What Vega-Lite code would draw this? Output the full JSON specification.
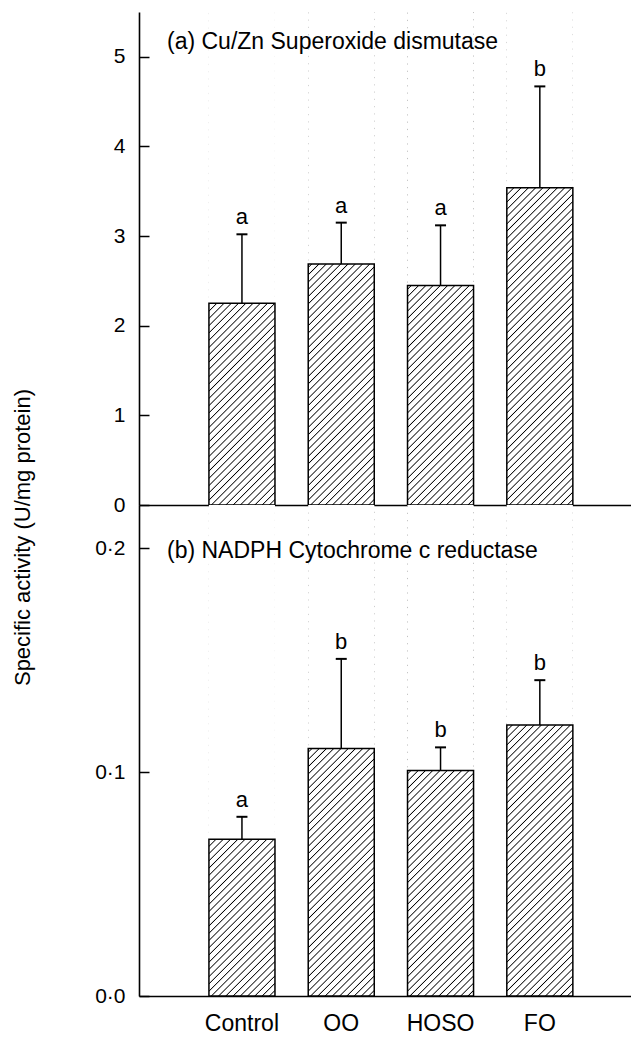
{
"$schema": "https://vega.github.io/schema/vega-lite/v6.json",
"autosize": {"type": "none"},
"padding": {"left": 139, "top": 12, "right": 492, "bottom": 1026},
"bounds": "flush",
"spacing": 0,
"config": {
 "view": {"stroke": null},
 "font": "Liberation Sans",
 "axis": {"domainColor": "black", "domainWidth": 1.6, "tickColor": "black", "tickWidth": 1.5, "labelColor": "black", "titleColor": "black", "labelFont": "Liberation Sans", "titleFont": "Liberation Sans", "zindex": 1, "grid": false}
},
"datasets": {
 "sod": [
  {"group": "Control", "mean": 2.25, "upper": 3.02, "letter": "a"},
  {"group": "OO", "mean": 2.69, "upper": 3.15, "letter": "a"},
  {"group": "HOSO", "mean": 2.45, "upper": 3.12, "letter": "a"},
  {"group": "FO", "mean": 3.54, "upper": 4.67, "letter": "b"}
 ],
 "ncr": [
  {"group": "Control", "mean": 0.070, "upper": 0.080, "letter": "a"},
  {"group": "OO", "mean": 0.1105, "upper": 0.1505, "letter": "b"},
  {"group": "HOSO", "mean": 0.1007, "upper": 0.111, "letter": "b"},
  {"group": "FO", "mean": 0.121, "upper": 0.141, "letter": "b"}
 ]
},
"vconcat": [
 {
  "width": 492, "height": 493,
  "data": {"name": "sod"},
  "title": {"text": "(a) Cu/Zn Superoxide dismutase", "orient": "top", "anchor": "start", "frame": "group", "offset": 0, "dx": 28, "dy": 60, "baseline": "alphabetic", "fontSize": 23, "fontWeight": "normal", "font": "Liberation Sans", "color": "black"},
  "resolve": {"axis": {"y": "independent"}},
  "encoding": {"x": {"field": "group", "type": "nominal", "sort": null, "scale": {"paddingInner": 0.335, "paddingOuter": 0.645, "align": 0.546}, "axis": {"labels": false, "ticks": false, "title": null}}},
  "layer": [
   {"mark": {"type": "bar", "opacity": 1, "fill": {"gradient": "linear", "x1": 0, "y1": 0, "x2": 0.1495, "y2": 1.1141, "stops": [
{"offset":0,"color":"#fff"},{"offset":0.002,"color":"#000"},{"offset":0.004,"color":"#fff"},
{"offset":0.013,"color":"#fff"},{"offset":0.015,"color":"#000"},{"offset":0.017,"color":"#fff"},
{"offset":0.026,"color":"#fff"},{"offset":0.028,"color":"#000"},{"offset":0.030,"color":"#fff"},
{"offset":0.039,"color":"#fff"},{"offset":0.041,"color":"#000"},{"offset":0.043,"color":"#fff"},
{"offset":0.052,"color":"#fff"},{"offset":0.054,"color":"#000"},{"offset":0.056,"color":"#fff"},
{"offset":0.065,"color":"#fff"},{"offset":0.067,"color":"#000"},{"offset":0.069,"color":"#fff"},
{"offset":0.078,"color":"#fff"},{"offset":0.080,"color":"#000"},{"offset":0.082,"color":"#fff"},
{"offset":0.091,"color":"#fff"},{"offset":0.093,"color":"#000"},{"offset":0.095,"color":"#fff"},
{"offset":0.104,"color":"#fff"},{"offset":0.106,"color":"#000"},{"offset":0.108,"color":"#fff"},
{"offset":0.117,"color":"#fff"},{"offset":0.119,"color":"#000"},{"offset":0.121,"color":"#fff"},
{"offset":0.130,"color":"#fff"},{"offset":0.132,"color":"#000"},{"offset":0.134,"color":"#fff"},
{"offset":0.143,"color":"#fff"},{"offset":0.145,"color":"#000"},{"offset":0.147,"color":"#fff"},
{"offset":0.156,"color":"#fff"},{"offset":0.158,"color":"#000"},{"offset":0.160,"color":"#fff"},
{"offset":0.169,"color":"#fff"},{"offset":0.171,"color":"#000"},{"offset":0.173,"color":"#fff"},
{"offset":0.182,"color":"#fff"},{"offset":0.184,"color":"#000"},{"offset":0.186,"color":"#fff"},
{"offset":0.195,"color":"#fff"},{"offset":0.197,"color":"#000"},{"offset":0.199,"color":"#fff"},
{"offset":0.208,"color":"#fff"},{"offset":0.210,"color":"#000"},{"offset":0.212,"color":"#fff"},
{"offset":0.221,"color":"#fff"},{"offset":0.223,"color":"#000"},{"offset":0.225,"color":"#fff"},
{"offset":0.234,"color":"#fff"},{"offset":0.236,"color":"#000"},{"offset":0.238,"color":"#fff"},
{"offset":0.247,"color":"#fff"},{"offset":0.249,"color":"#000"},{"offset":0.251,"color":"#fff"},
{"offset":0.260,"color":"#fff"},{"offset":0.262,"color":"#000"},{"offset":0.264,"color":"#fff"},
{"offset":0.273,"color":"#fff"},{"offset":0.275,"color":"#000"},{"offset":0.277,"color":"#fff"},
{"offset":0.286,"color":"#fff"},{"offset":0.288,"color":"#000"},{"offset":0.290,"color":"#fff"},
{"offset":0.299,"color":"#fff"},{"offset":0.301,"color":"#000"},{"offset":0.303,"color":"#fff"},
{"offset":0.312,"color":"#fff"},{"offset":0.314,"color":"#000"},{"offset":0.316,"color":"#fff"},
{"offset":0.325,"color":"#fff"},{"offset":0.327,"color":"#000"},{"offset":0.329,"color":"#fff"},
{"offset":0.338,"color":"#fff"},{"offset":0.340,"color":"#000"},{"offset":0.342,"color":"#fff"},
{"offset":0.351,"color":"#fff"},{"offset":0.353,"color":"#000"},{"offset":0.355,"color":"#fff"},
{"offset":0.364,"color":"#fff"},{"offset":0.366,"color":"#000"},{"offset":0.368,"color":"#fff"},
{"offset":0.377,"color":"#fff"},{"offset":0.379,"color":"#000"},{"offset":0.381,"color":"#fff"},
{"offset":0.390,"color":"#fff"},{"offset":0.392,"color":"#000"},{"offset":0.394,"color":"#fff"},
{"offset":0.403,"color":"#fff"},{"offset":0.405,"color":"#000"},{"offset":0.407,"color":"#fff"},
{"offset":0.416,"color":"#fff"},{"offset":0.418,"color":"#000"},{"offset":0.420,"color":"#fff"},
{"offset":0.429,"color":"#fff"},{"offset":0.431,"color":"#000"},{"offset":0.433,"color":"#fff"},
{"offset":0.442,"color":"#fff"},{"offset":0.444,"color":"#000"},{"offset":0.446,"color":"#fff"},
{"offset":0.455,"color":"#fff"},{"offset":0.457,"color":"#000"},{"offset":0.459,"color":"#fff"},
{"offset":0.468,"color":"#fff"},{"offset":0.470,"color":"#000"},{"offset":0.472,"color":"#fff"},
{"offset":0.481,"color":"#fff"},{"offset":0.483,"color":"#000"},{"offset":0.485,"color":"#fff"},
{"offset":0.494,"color":"#fff"},{"offset":0.496,"color":"#000"},{"offset":0.498,"color":"#fff"},
{"offset":0.507,"color":"#fff"},{"offset":0.509,"color":"#000"},{"offset":0.511,"color":"#fff"},
{"offset":0.520,"color":"#fff"},{"offset":0.522,"color":"#000"},{"offset":0.524,"color":"#fff"},
{"offset":0.533,"color":"#fff"},{"offset":0.535,"color":"#000"},{"offset":0.537,"color":"#fff"},
{"offset":0.546,"color":"#fff"},{"offset":0.548,"color":"#000"},{"offset":0.550,"color":"#fff"},
{"offset":0.559,"color":"#fff"},{"offset":0.561,"color":"#000"},{"offset":0.563,"color":"#fff"},
{"offset":0.572,"color":"#fff"},{"offset":0.574,"color":"#000"},{"offset":0.576,"color":"#fff"},
{"offset":0.585,"color":"#fff"},{"offset":0.587,"color":"#000"},{"offset":0.589,"color":"#fff"},
{"offset":0.598,"color":"#fff"},{"offset":0.600,"color":"#000"},{"offset":0.602,"color":"#fff"},
{"offset":0.611,"color":"#fff"},{"offset":0.613,"color":"#000"},{"offset":0.615,"color":"#fff"},
{"offset":0.624,"color":"#fff"},{"offset":0.626,"color":"#000"},{"offset":0.628,"color":"#fff"},
{"offset":0.637,"color":"#fff"},{"offset":0.639,"color":"#000"},{"offset":0.641,"color":"#fff"},
{"offset":0.650,"color":"#fff"},{"offset":0.652,"color":"#000"},{"offset":0.654,"color":"#fff"},
{"offset":0.663,"color":"#fff"},{"offset":0.665,"color":"#000"},{"offset":0.667,"color":"#fff"},
{"offset":0.676,"color":"#fff"},{"offset":0.678,"color":"#000"},{"offset":0.680,"color":"#fff"},
{"offset":0.689,"color":"#fff"},{"offset":0.691,"color":"#000"},{"offset":0.693,"color":"#fff"},
{"offset":0.702,"color":"#fff"},{"offset":0.704,"color":"#000"},{"offset":0.706,"color":"#fff"},
{"offset":0.715,"color":"#fff"},{"offset":0.717,"color":"#000"},{"offset":0.719,"color":"#fff"},
{"offset":0.728,"color":"#fff"},{"offset":0.730,"color":"#000"},{"offset":0.732,"color":"#fff"},
{"offset":0.741,"color":"#fff"},{"offset":0.743,"color":"#000"},{"offset":0.745,"color":"#fff"},
{"offset":0.754,"color":"#fff"},{"offset":0.756,"color":"#000"},{"offset":0.758,"color":"#fff"},
{"offset":0.767,"color":"#fff"},{"offset":0.769,"color":"#000"},{"offset":0.771,"color":"#fff"},
{"offset":0.780,"color":"#fff"},{"offset":0.782,"color":"#000"},{"offset":0.784,"color":"#fff"},
{"offset":0.793,"color":"#fff"},{"offset":0.795,"color":"#000"},{"offset":0.797,"color":"#fff"},
{"offset":0.806,"color":"#fff"},{"offset":0.808,"color":"#000"},{"offset":0.810,"color":"#fff"},
{"offset":0.819,"color":"#fff"},{"offset":0.821,"color":"#000"},{"offset":0.823,"color":"#fff"},
{"offset":0.832,"color":"#fff"},{"offset":0.834,"color":"#000"},{"offset":0.836,"color":"#fff"},
{"offset":0.845,"color":"#fff"},{"offset":0.847,"color":"#000"},{"offset":0.849,"color":"#fff"},
{"offset":0.858,"color":"#fff"},{"offset":0.860,"color":"#000"},{"offset":0.862,"color":"#fff"},
{"offset":0.871,"color":"#fff"},{"offset":0.873,"color":"#000"},{"offset":0.875,"color":"#fff"},
{"offset":0.884,"color":"#fff"},{"offset":0.886,"color":"#000"},{"offset":0.888,"color":"#fff"},
{"offset":0.897,"color":"#fff"},{"offset":0.899,"color":"#000"},{"offset":0.901,"color":"#fff"},
{"offset":0.910,"color":"#fff"},{"offset":0.912,"color":"#000"},{"offset":0.914,"color":"#fff"},
{"offset":0.923,"color":"#fff"},{"offset":0.925,"color":"#000"},{"offset":0.927,"color":"#fff"},
{"offset":0.936,"color":"#fff"},{"offset":0.938,"color":"#000"},{"offset":0.940,"color":"#fff"},
{"offset":0.949,"color":"#fff"},{"offset":0.951,"color":"#000"},{"offset":0.953,"color":"#fff"},
{"offset":0.962,"color":"#fff"},{"offset":0.964,"color":"#000"},{"offset":0.966,"color":"#fff"},
{"offset":0.975,"color":"#fff"},{"offset":0.977,"color":"#000"},{"offset":0.979,"color":"#fff"},
{"offset":0.988,"color":"#fff"},{"offset":0.990,"color":"#000"},{"offset":0.992,"color":"#fff"},
{"offset":1,"color":"#fff"}]}},
    "encoding": {"y": {"datum": 5.5, "type": "quantitative", "title": null, "scale": {"domain": [0, 5.5], "nice": false}, "axis": {"orient": "left", "values": [0, 1, 2, 3, 4, 5], "format": "d", "title": "Specific activity (U/mg protein)", "titleX": -117, "titleY": 525, "titleAngle": 270, "titleAlign": "center", "titleBaseline": "middle", "titleFontSize": 22, "titleFontWeight": "normal", "ticks": false, "labelPadding": 14, "labelFontSize": 21}}, "y2": {"datum": 0}}},
   {"mark": {"type": "bar", "fill": "white", "opacity": 1},
    "encoding": {"y": {"field": "mean", "type": "quantitative", "title": null, "axis": null}, "y2": {"datum": 5.5}}},
   {"mark": {"type": "bar", "fill": "transparent", "stroke": "black", "strokeWidth": 1.5, "opacity": 1},
    "encoding": {"y": {"field": "mean", "type": "quantitative", "title": null, "axis": {"orient": "right", "offset": -492, "values": [0, 1, 2, 3, 4, 5], "labels": false, "domain": false, "ticks": true, "tickSize": 10, "title": null}}}},
   {"mark": {"type": "rule", "color": "black", "strokeWidth": 1.5, "opacity": 1},
    "encoding": {"y": {"field": "mean", "type": "quantitative", "title": null, "axis": null}, "y2": {"field": "upper"}}},
   {"mark": {"type": "tick", "orient": "horizontal", "size": 11, "thickness": 2, "color": "black", "opacity": 1},
    "encoding": {"y": {"field": "upper", "type": "quantitative", "title": null, "axis": null}}},
   {"mark": {"type": "text", "baseline": "alphabetic", "dy": -10, "fontSize": 22, "color": "black"},
    "encoding": {"y": {"field": "upper", "type": "quantitative", "title": null, "axis": null}, "text": {"field": "letter"}}}
  ]
 },
 {
  "width": 492, "height": 491,
  "data": {"name": "ncr"},
  "title": {"text": "(b) NADPH Cytochrome c reductase", "orient": "top", "anchor": "start", "frame": "group", "offset": 0, "dx": 28, "dy": 76, "baseline": "alphabetic", "fontSize": 23, "fontWeight": "normal", "font": "Liberation Sans", "color": "black"},
  "resolve": {"axis": {"y": "independent"}},
  "encoding": {"x": {"field": "group", "type": "nominal", "sort": null, "scale": {"paddingInner": 0.335, "paddingOuter": 0.645, "align": 0.546}, "axis": {"ticks": false, "title": null, "labelAngle": 0, "labelFontSize": 23, "labelPadding": 16}}},
  "layer": [
   {"mark": {"type": "bar", "opacity": 1, "fill": {"gradient": "linear", "x1": 0, "y1": 0, "x2": 0.1495, "y2": 1.1141, "stops": [
{"offset":0,"color":"#fff"},{"offset":0.002,"color":"#000"},{"offset":0.004,"color":"#fff"},
{"offset":0.013,"color":"#fff"},{"offset":0.015,"color":"#000"},{"offset":0.017,"color":"#fff"},
{"offset":0.026,"color":"#fff"},{"offset":0.028,"color":"#000"},{"offset":0.030,"color":"#fff"},
{"offset":0.039,"color":"#fff"},{"offset":0.041,"color":"#000"},{"offset":0.043,"color":"#fff"},
{"offset":0.052,"color":"#fff"},{"offset":0.054,"color":"#000"},{"offset":0.056,"color":"#fff"},
{"offset":0.065,"color":"#fff"},{"offset":0.067,"color":"#000"},{"offset":0.069,"color":"#fff"},
{"offset":0.078,"color":"#fff"},{"offset":0.080,"color":"#000"},{"offset":0.082,"color":"#fff"},
{"offset":0.091,"color":"#fff"},{"offset":0.093,"color":"#000"},{"offset":0.095,"color":"#fff"},
{"offset":0.104,"color":"#fff"},{"offset":0.106,"color":"#000"},{"offset":0.108,"color":"#fff"},
{"offset":0.117,"color":"#fff"},{"offset":0.119,"color":"#000"},{"offset":0.121,"color":"#fff"},
{"offset":0.130,"color":"#fff"},{"offset":0.132,"color":"#000"},{"offset":0.134,"color":"#fff"},
{"offset":0.143,"color":"#fff"},{"offset":0.145,"color":"#000"},{"offset":0.147,"color":"#fff"},
{"offset":0.156,"color":"#fff"},{"offset":0.158,"color":"#000"},{"offset":0.160,"color":"#fff"},
{"offset":0.169,"color":"#fff"},{"offset":0.171,"color":"#000"},{"offset":0.173,"color":"#fff"},
{"offset":0.182,"color":"#fff"},{"offset":0.184,"color":"#000"},{"offset":0.186,"color":"#fff"},
{"offset":0.195,"color":"#fff"},{"offset":0.197,"color":"#000"},{"offset":0.199,"color":"#fff"},
{"offset":0.208,"color":"#fff"},{"offset":0.210,"color":"#000"},{"offset":0.212,"color":"#fff"},
{"offset":0.221,"color":"#fff"},{"offset":0.223,"color":"#000"},{"offset":0.225,"color":"#fff"},
{"offset":0.234,"color":"#fff"},{"offset":0.236,"color":"#000"},{"offset":0.238,"color":"#fff"},
{"offset":0.247,"color":"#fff"},{"offset":0.249,"color":"#000"},{"offset":0.251,"color":"#fff"},
{"offset":0.260,"color":"#fff"},{"offset":0.262,"color":"#000"},{"offset":0.264,"color":"#fff"},
{"offset":0.273,"color":"#fff"},{"offset":0.275,"color":"#000"},{"offset":0.277,"color":"#fff"},
{"offset":0.286,"color":"#fff"},{"offset":0.288,"color":"#000"},{"offset":0.290,"color":"#fff"},
{"offset":0.299,"color":"#fff"},{"offset":0.301,"color":"#000"},{"offset":0.303,"color":"#fff"},
{"offset":0.312,"color":"#fff"},{"offset":0.314,"color":"#000"},{"offset":0.316,"color":"#fff"},
{"offset":0.325,"color":"#fff"},{"offset":0.327,"color":"#000"},{"offset":0.329,"color":"#fff"},
{"offset":0.338,"color":"#fff"},{"offset":0.340,"color":"#000"},{"offset":0.342,"color":"#fff"},
{"offset":0.351,"color":"#fff"},{"offset":0.353,"color":"#000"},{"offset":0.355,"color":"#fff"},
{"offset":0.364,"color":"#fff"},{"offset":0.366,"color":"#000"},{"offset":0.368,"color":"#fff"},
{"offset":0.377,"color":"#fff"},{"offset":0.379,"color":"#000"},{"offset":0.381,"color":"#fff"},
{"offset":0.390,"color":"#fff"},{"offset":0.392,"color":"#000"},{"offset":0.394,"color":"#fff"},
{"offset":0.403,"color":"#fff"},{"offset":0.405,"color":"#000"},{"offset":0.407,"color":"#fff"},
{"offset":0.416,"color":"#fff"},{"offset":0.418,"color":"#000"},{"offset":0.420,"color":"#fff"},
{"offset":0.429,"color":"#fff"},{"offset":0.431,"color":"#000"},{"offset":0.433,"color":"#fff"},
{"offset":0.442,"color":"#fff"},{"offset":0.444,"color":"#000"},{"offset":0.446,"color":"#fff"},
{"offset":0.455,"color":"#fff"},{"offset":0.457,"color":"#000"},{"offset":0.459,"color":"#fff"},
{"offset":0.468,"color":"#fff"},{"offset":0.470,"color":"#000"},{"offset":0.472,"color":"#fff"},
{"offset":0.481,"color":"#fff"},{"offset":0.483,"color":"#000"},{"offset":0.485,"color":"#fff"},
{"offset":0.494,"color":"#fff"},{"offset":0.496,"color":"#000"},{"offset":0.498,"color":"#fff"},
{"offset":0.507,"color":"#fff"},{"offset":0.509,"color":"#000"},{"offset":0.511,"color":"#fff"},
{"offset":0.520,"color":"#fff"},{"offset":0.522,"color":"#000"},{"offset":0.524,"color":"#fff"},
{"offset":0.533,"color":"#fff"},{"offset":0.535,"color":"#000"},{"offset":0.537,"color":"#fff"},
{"offset":0.546,"color":"#fff"},{"offset":0.548,"color":"#000"},{"offset":0.550,"color":"#fff"},
{"offset":0.559,"color":"#fff"},{"offset":0.561,"color":"#000"},{"offset":0.563,"color":"#fff"},
{"offset":0.572,"color":"#fff"},{"offset":0.574,"color":"#000"},{"offset":0.576,"color":"#fff"},
{"offset":0.585,"color":"#fff"},{"offset":0.587,"color":"#000"},{"offset":0.589,"color":"#fff"},
{"offset":0.598,"color":"#fff"},{"offset":0.600,"color":"#000"},{"offset":0.602,"color":"#fff"},
{"offset":0.611,"color":"#fff"},{"offset":0.613,"color":"#000"},{"offset":0.615,"color":"#fff"},
{"offset":0.624,"color":"#fff"},{"offset":0.626,"color":"#000"},{"offset":0.628,"color":"#fff"},
{"offset":0.637,"color":"#fff"},{"offset":0.639,"color":"#000"},{"offset":0.641,"color":"#fff"},
{"offset":0.650,"color":"#fff"},{"offset":0.652,"color":"#000"},{"offset":0.654,"color":"#fff"},
{"offset":0.663,"color":"#fff"},{"offset":0.665,"color":"#000"},{"offset":0.667,"color":"#fff"},
{"offset":0.676,"color":"#fff"},{"offset":0.678,"color":"#000"},{"offset":0.680,"color":"#fff"},
{"offset":0.689,"color":"#fff"},{"offset":0.691,"color":"#000"},{"offset":0.693,"color":"#fff"},
{"offset":0.702,"color":"#fff"},{"offset":0.704,"color":"#000"},{"offset":0.706,"color":"#fff"},
{"offset":0.715,"color":"#fff"},{"offset":0.717,"color":"#000"},{"offset":0.719,"color":"#fff"},
{"offset":0.728,"color":"#fff"},{"offset":0.730,"color":"#000"},{"offset":0.732,"color":"#fff"},
{"offset":0.741,"color":"#fff"},{"offset":0.743,"color":"#000"},{"offset":0.745,"color":"#fff"},
{"offset":0.754,"color":"#fff"},{"offset":0.756,"color":"#000"},{"offset":0.758,"color":"#fff"},
{"offset":0.767,"color":"#fff"},{"offset":0.769,"color":"#000"},{"offset":0.771,"color":"#fff"},
{"offset":0.780,"color":"#fff"},{"offset":0.782,"color":"#000"},{"offset":0.784,"color":"#fff"},
{"offset":0.793,"color":"#fff"},{"offset":0.795,"color":"#000"},{"offset":0.797,"color":"#fff"},
{"offset":0.806,"color":"#fff"},{"offset":0.808,"color":"#000"},{"offset":0.810,"color":"#fff"},
{"offset":0.819,"color":"#fff"},{"offset":0.821,"color":"#000"},{"offset":0.823,"color":"#fff"},
{"offset":0.832,"color":"#fff"},{"offset":0.834,"color":"#000"},{"offset":0.836,"color":"#fff"},
{"offset":0.845,"color":"#fff"},{"offset":0.847,"color":"#000"},{"offset":0.849,"color":"#fff"},
{"offset":0.858,"color":"#fff"},{"offset":0.860,"color":"#000"},{"offset":0.862,"color":"#fff"},
{"offset":0.871,"color":"#fff"},{"offset":0.873,"color":"#000"},{"offset":0.875,"color":"#fff"},
{"offset":0.884,"color":"#fff"},{"offset":0.886,"color":"#000"},{"offset":0.888,"color":"#fff"},
{"offset":0.897,"color":"#fff"},{"offset":0.899,"color":"#000"},{"offset":0.901,"color":"#fff"},
{"offset":0.910,"color":"#fff"},{"offset":0.912,"color":"#000"},{"offset":0.914,"color":"#fff"},
{"offset":0.923,"color":"#fff"},{"offset":0.925,"color":"#000"},{"offset":0.927,"color":"#fff"},
{"offset":0.936,"color":"#fff"},{"offset":0.938,"color":"#000"},{"offset":0.940,"color":"#fff"},
{"offset":0.949,"color":"#fff"},{"offset":0.951,"color":"#000"},{"offset":0.953,"color":"#fff"},
{"offset":0.962,"color":"#fff"},{"offset":0.964,"color":"#000"},{"offset":0.966,"color":"#fff"},
{"offset":0.975,"color":"#fff"},{"offset":0.977,"color":"#000"},{"offset":0.979,"color":"#fff"},
{"offset":0.988,"color":"#fff"},{"offset":0.990,"color":"#000"},{"offset":0.992,"color":"#fff"},
{"offset":1,"color":"#fff"}]}},
    "encoding": {"y": {"datum": 0.2192, "type": "quantitative", "title": null, "scale": {"domain": [0, 0.2192], "nice": false}, "axis": {"orient": "left", "values": [0, 0.1, 0.2], "format": ".1f", "labelExpr": "replace(datum.label, '.', '·')", "title": null, "ticks": false, "labelPadding": 14, "labelFontSize": 21}}, "y2": {"datum": 0}}},
   {"mark": {"type": "bar", "fill": "white", "opacity": 1},
    "encoding": {"y": {"field": "mean", "type": "quantitative", "title": null, "axis": null}, "y2": {"datum": 0.2192}}},
   {"mark": {"type": "bar", "fill": "transparent", "stroke": "black", "strokeWidth": 1.5, "opacity": 1},
    "encoding": {"y": {"field": "mean", "type": "quantitative", "title": null, "axis": {"orient": "right", "offset": -492, "values": [0, 0.1, 0.2], "labels": false, "domain": false, "ticks": true, "tickSize": 10, "title": null}}}},
   {"mark": {"type": "rule", "color": "black", "strokeWidth": 1.5, "opacity": 1},
    "encoding": {"y": {"field": "mean", "type": "quantitative", "title": null, "axis": null}, "y2": {"field": "upper"}}},
   {"mark": {"type": "tick", "orient": "horizontal", "size": 11, "thickness": 2, "color": "black", "opacity": 1},
    "encoding": {"y": {"field": "upper", "type": "quantitative", "title": null, "axis": null}}},
   {"mark": {"type": "text", "baseline": "alphabetic", "dy": -10, "fontSize": 22, "color": "black"},
    "encoding": {"y": {"field": "upper", "type": "quantitative", "title": null, "axis": null}, "text": {"field": "letter"}}}
  ]
 }
]
}
